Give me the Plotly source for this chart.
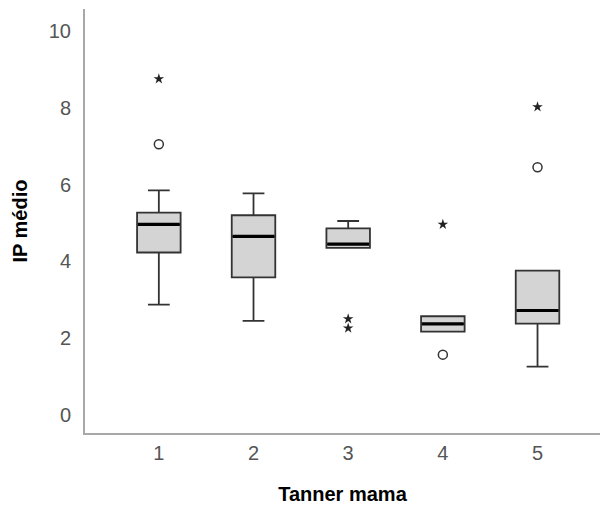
import plotly.graph_objects as go

categories = [1, 2, 3, 4, 5]
q1 = [4.23, 3.58, 4.35, 2.17, 2.38]
median = [4.96, 4.65, 4.45, 2.37, 2.72]
q3 = [5.27, 5.20, 4.86, 2.57, 3.76]
lower_whisker = [2.87, 2.45, 4.35, 2.17, 1.26]
upper_whisker = [5.85, 5.77, 5.05, 2.57, 3.76]

circle_x = [1, 4, 5]
circle_y = [7.05, 1.57, 6.45]
star_x = [1, 3, 3, 4, 5]
star_y = [8.75, 2.50, 2.26, 4.96, 8.02]

box_width = 0.46

fig = go.Figure()
fig.add_trace(go.Box(
    x=categories, q1=q1, median=median, q3=q3,
    lowerfence=lower_whisker, upperfence=upper_whisker,
    width=box_width, whiskerwidth=0.5,
    fillcolor="#d4d4d4", line=dict(color="#333333", width=1.8),
    boxpoints=False, hoverinfo="skip", showlegend=False,
))

# thick black median lines
mx, my = [], []
for c, m in zip(categories, median):
    mx += [c - box_width / 2 + 0.01, c + box_width / 2 - 0.01, None]
    my += [m, m, None]
fig.add_trace(go.Scatter(x=mx, y=my, mode="lines",
                         line=dict(color="black", width=3.2),
                         hoverinfo="skip", showlegend=False))

fig.add_trace(go.Scatter(x=circle_x, y=circle_y, mode="markers",
                         marker=dict(symbol="circle-open", size=9,
                                     color="#333333", line=dict(width=1.5)),
                         showlegend=False))
fig.add_trace(go.Scatter(x=star_x, y=star_y, mode="markers",
                         marker=dict(symbol="star", size=8, color="#222222"),
                         showlegend=False))

fig.update_layout(
    width=600, height=505,
    margin=dict(l=85, r=0, t=9, b=72),
    paper_bgcolor="white", plot_bgcolor="white",
    font=dict(family="Liberation Sans, Arial, sans-serif"),
    xaxis=dict(
        range=[0.22, 5.66], tickvals=categories,
        ticktext=[str(c) for c in categories],
        tickfont=dict(size=20, color="#555555"),
        showgrid=False, zeroline=False,
        showline=True, linecolor="#a8a8a8", linewidth=2,
        ticks="outside", ticklen=1, tickcolor="rgba(0,0,0,0)",
        title=dict(text="<b>Tanner mama</b>", font=dict(size=20, color="black"),
                   standoff=24),
    ),
    yaxis=dict(
        range=[-0.47, 10.57], tickvals=[0, 2, 4, 6, 8, 10],
        tickfont=dict(size=20, color="#555555"),
        showgrid=False, zeroline=False,
        showline=True, linecolor="#a8a8a8", linewidth=2,
        ticks="outside", ticklen=8, tickcolor="rgba(0,0,0,0)",
        title=dict(text="<b>IP médio</b>", font=dict(size=20, color="black"),
                   standoff=16),
    ),
)

fig.write_html("out.html")
